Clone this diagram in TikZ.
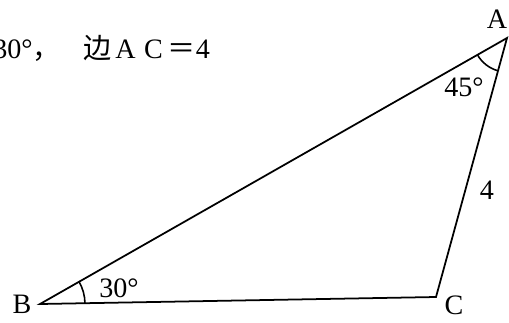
\documentclass[tikz,border=0pt]{standalone}
\usepackage{fontspec}
\setmainfont{Liberation Serif}
\newfontfamily\cjk{Noto Sans CJK SC}
\usetikzlibrary{angles}

\begin{document}
\begin{tikzpicture}[
    x=0.02cm, y=0.02cm,
    every node/.style={font=\fontsize{16}{19}\selectfont, inner sep=0pt},
    side/.style={line width=1pt},
    corner/.style={draw, line width=0.9pt}
]
    \useasboundingbox (0,0) rectangle (509,322);

    % Vertices
    \coordinate (A) at (507,284);
    \coordinate (B) at (40,18);
    \coordinate (C) at (436,25);

    % Triangle
    \draw[side] (A) -- (B) -- (C) -- cycle;

    % Angle marks
    \pic[corner, angle radius=0.9cm] {angle=C--B--A};
    \pic[corner, angle radius=0.68cm] {angle=B--A--C};

    % Labels
    \node (lA) at (497,303) {A};
    \node (lB) at (22,18) {B};
    \node (lC) at (454,17) {C};
    \node (l4) at (487,132) {4};
    \node (angB) at (119,34) {30°};
    \node (angA) at (464,235) {45°};

    % Given text (cut at the left edge)
    \node[anchor=base west] (given) at (-7,264) {30°{\cjk ，}\hspace{0.8em}{\cjk 边}\makebox[1em]{A}\makebox[1em]{C}{\cjk ＝}4};
\end{tikzpicture}
\end{document}
